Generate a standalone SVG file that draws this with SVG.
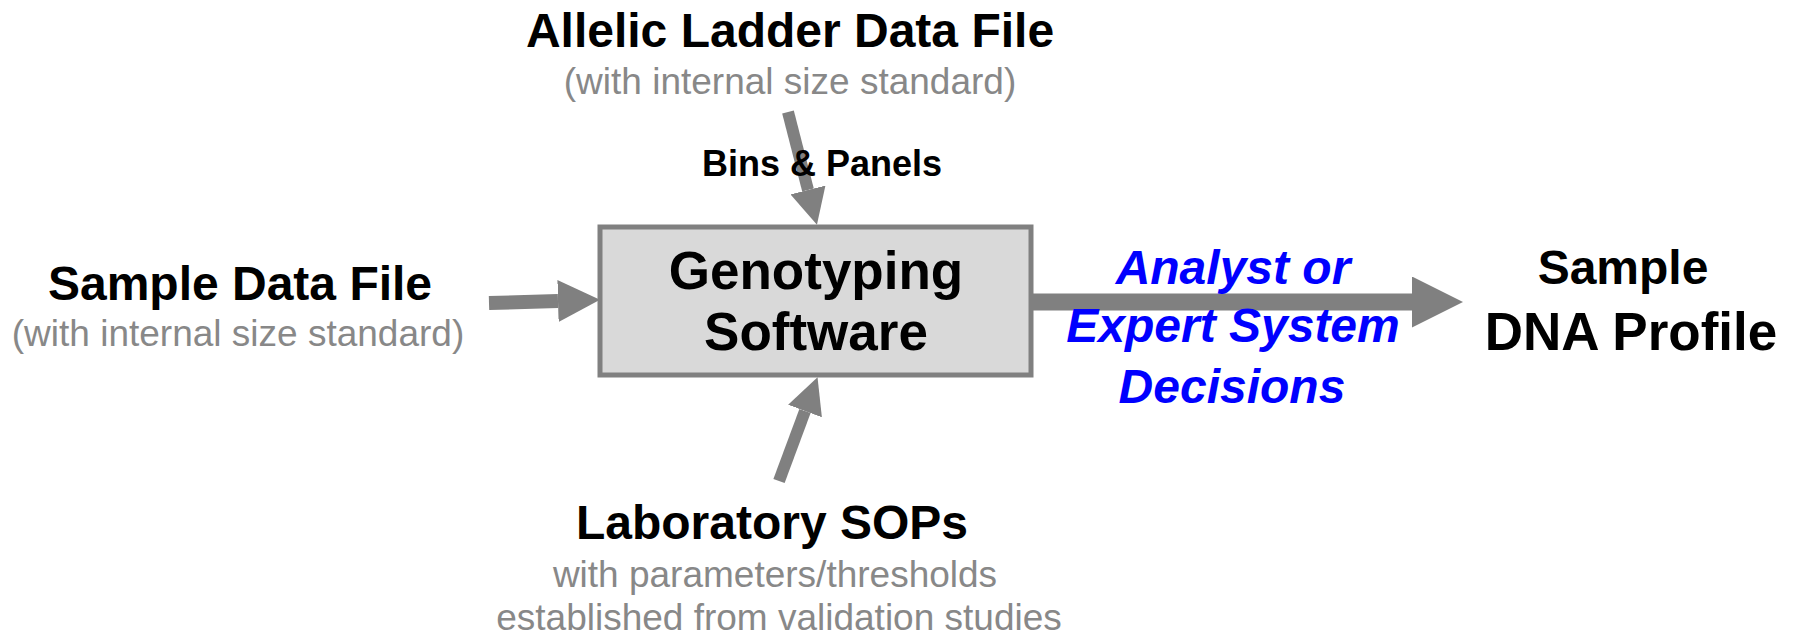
<svg xmlns="http://www.w3.org/2000/svg" width="1797" height="636" viewBox="0 0 1797 636">
<style>
text{font-family:"Liberation Sans",Arial,sans-serif;text-anchor:middle}
.t{font-weight:bold;font-size:48px;fill:#000}
.big{font-weight:bold;font-size:53px;fill:#000}
.sub{font-size:37px;fill:#888888}
.lbl{font-weight:bold;font-size:36px;fill:#000}
.dec{font-weight:bold;font-style:italic;font-size:48px;fill:#0000ff}
.arr{stroke:#808080;fill:none;marker-end:url(#ah)}
</style>
<defs>
<marker id="ah" viewBox="0 0 10 10" refX="0" refY="5" markerWidth="3" markerHeight="3" markerUnits="strokeWidth" orient="auto" preserveAspectRatio="none">
<path d="M0,0 L10,5 L0,10 z" fill="#808080"/>
</marker>
</defs>
<rect width="1797" height="636" fill="#ffffff"/>
<g id="connectors">
<line class="arr" x1="788" y1="112" x2="808" y2="190" stroke-width="12"/>
<line class="arr" x1="489" y1="303" x2="558" y2="301" stroke-width="14"/>
<line class="arr" x1="779" y1="481" x2="805" y2="411" stroke-width="12"/>
<line class="arr" x1="1031" y1="302" x2="1412" y2="302" stroke-width="17"/>
</g>
<g id="allelic">
<text class="t" x="790" y="47">Allelic Ladder Data File</text>
<text class="sub" x="790" y="94">(with internal size standard)</text>
</g>
<g id="bins">
<text class="lbl" x="822" y="176">Bins &amp; Panels</text>
</g>
<g id="genotyping">
<rect x="600" y="227" width="431" height="148" fill="#d9d9d9" stroke="#808080" stroke-width="5"/>
<text class="big" x="816" y="289">Genotyping</text>
<text class="big" x="816" y="350">Software</text>
</g>
<g id="sample">
<text class="t" x="240" y="300">Sample Data File</text>
<text class="sub" x="238" y="346">(with internal size standard)</text>
</g>
<g id="decisions">
<text class="dec" x="1233" y="284">Analyst or</text>
<text class="dec" x="1233" y="342">Expert System</text>
<text class="dec" x="1232" y="403">Decisions</text>
</g>
<g id="profile">
<text class="t" x="1623" y="284">Sample</text>
<text class="big" x="1631" y="350">DNA Profile</text>
</g>
<g id="sops">
<text class="t" x="772" y="539">Laboratory SOPs</text>
<text class="sub" x="775" y="587">with parameters/thresholds</text>
<text class="sub" x="779" y="630">established from validation studies</text>
</g>
</svg>
